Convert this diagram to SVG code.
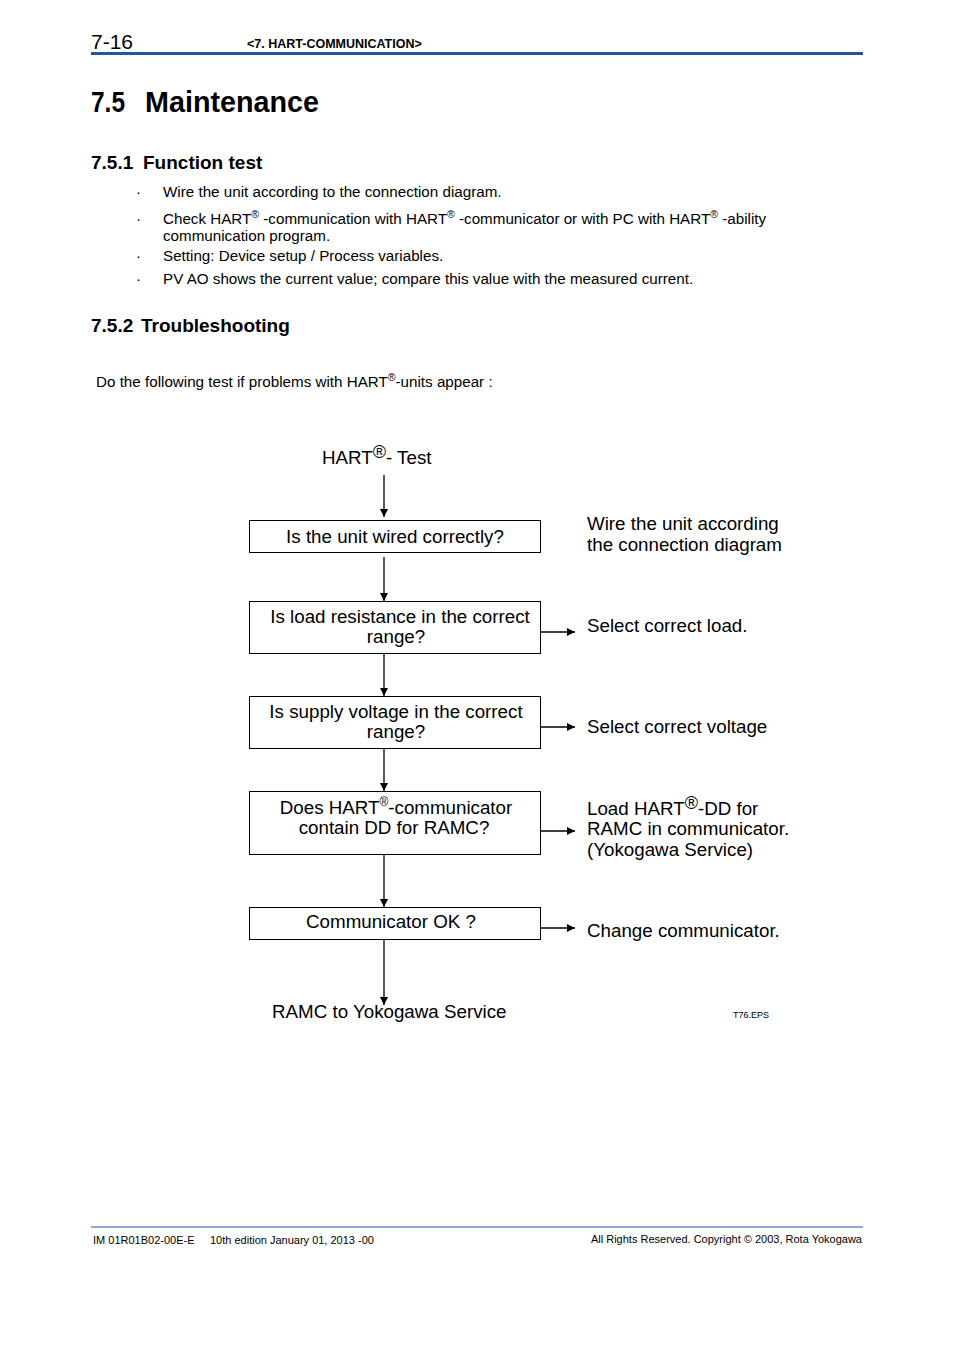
<svg xmlns="http://www.w3.org/2000/svg" width="954" height="1350" viewBox="0 0 954 1350">
<style>
text{font-family:"Liberation Sans",Arial,sans-serif;fill:#000}
.body{font-size:15.2px}
.dg{font-size:18.75px}
.box{fill:#fff;stroke:#000;stroke-width:1}
.ln{stroke:#000;stroke-width:1.3;fill:none}
.b{font-weight:bold}
</style>
<defs>
<marker id="ah" viewBox="0 0 10 10" refX="10" refY="5" markerWidth="8" markerHeight="8" markerUnits="userSpaceOnUse" orient="auto">
<path d="M0,0 L10,5 L0,10 Z" fill="#000"/>
</marker>
</defs>
<rect width="954" height="1350" fill="#fff"/>
<!-- header -->
<text x="91" y="49" font-size="21">7-16</text>
<text x="247" y="48" font-size="12.5" class="b">&lt;7. HART-COMMUNICATION&gt;</text>
<rect x="91" y="52" width="772" height="3" fill="#2456a0"/>
<text x="91" y="112" font-size="30" class="b" textLength="34" lengthAdjust="spacingAndGlyphs">7.5</text>
<text x="145" y="112" font-size="30" class="b" textLength="174" lengthAdjust="spacingAndGlyphs">Maintenance</text>
<text x="91" y="169" font-size="19" class="b">7.5.1</text>
<text x="143" y="169" font-size="19" class="b">Function test</text>
<g class="body">
<text x="136" y="197">·</text><text x="163" y="197">Wire the unit according to the connection diagram.</text>
<text x="136" y="224">·</text><text x="163" y="224">Check HART<tspan font-size="10.5" dy="-6">®</tspan><tspan dy="6"> -communication with HART</tspan><tspan font-size="10.5" dy="-6">®</tspan><tspan dy="6"> -communicator or with PC with HART</tspan><tspan font-size="10.5" dy="-6">®</tspan><tspan dy="6"> -ability</tspan></text>
<text x="163" y="241">communication program.</text>
<text x="136" y="261">·</text><text x="163" y="261">Setting: Device setup / Process variables.</text>
<text x="136" y="284">·</text><text x="163" y="284">PV AO shows the current value; compare this value with the measured current.</text>
</g>
<text x="91" y="332" font-size="19" class="b">7.5.2</text>
<text x="141" y="332" font-size="19" class="b">Troubleshooting</text>
<text x="96" y="387" class="body">Do the following test if problems with HART<tspan font-size="10.5" dy="-6">®</tspan><tspan dy="6">-units appear :</tspan></text>

<!-- diagram -->
<g id="start"><text x="322" y="464" class="dg">HART<tspan font-size="18" dy="-6">®</tspan><tspan dy="6">- Test</tspan></text></g>
<g id="box1"><rect class="box" x="249.5" y="520.5" width="291" height="32"/><text x="395" y="543" class="dg" text-anchor="middle">Is the unit wired correctly?</text></g>
<g id="box2"><rect class="box" x="249.5" y="601.5" width="291" height="52"/><text x="400" y="623" class="dg" text-anchor="middle">Is load resistance in the correct</text><text x="396" y="643" class="dg" text-anchor="middle">range?</text></g>
<g id="box3"><rect class="box" x="249.5" y="696.5" width="291" height="52"/><text x="396" y="718" class="dg" text-anchor="middle">Is supply voltage in the correct</text><text x="396" y="738" class="dg" text-anchor="middle">range?</text></g>
<g id="box4"><rect class="box" x="249.5" y="791.5" width="291" height="63"/><text x="396" y="814" class="dg" text-anchor="middle">Does HART<tspan font-size="12" dy="-8">®</tspan><tspan dy="8">-communicator</tspan></text><text x="394" y="834" class="dg" text-anchor="middle">contain DD for RAMC?</text></g>
<g id="box5"><rect class="box" x="249.5" y="907.5" width="291" height="32"/><text x="391" y="928" class="dg" text-anchor="middle">Communicator OK ?</text></g>
<g id="end"><text x="272" y="1018" class="dg">RAMC to Yokogawa Service</text></g>
<g id="r1"><text x="587" y="530" class="dg">Wire the unit according</text><text x="587" y="551" class="dg">the connection diagram</text></g>
<g id="r2"><text x="587" y="632" class="dg">Select correct load.</text></g>
<g id="r3"><text x="587" y="733" class="dg">Select correct voltage</text></g>
<g id="r4"><text x="587" y="815" class="dg">Load HART<tspan font-size="18" dy="-6">®</tspan><tspan dy="6">-DD for</tspan></text><text x="587" y="835" class="dg">RAMC in communicator.</text><text x="587" y="856" class="dg">(Yokogawa Service)</text></g>
<g id="r5"><text x="587" y="937" class="dg">Change communicator.</text></g>
<text x="733" y="1018" font-size="9">T76.EPS</text>

<g id="connectors" class="ln">
<line x1="384" y1="475" x2="384" y2="517" marker-end="url(#ah)"/>
<line x1="384" y1="557" x2="384" y2="601" marker-end="url(#ah)"/>
<line x1="384" y1="654" x2="384" y2="696" marker-end="url(#ah)"/>
<line x1="384" y1="749" x2="384" y2="791" marker-end="url(#ah)"/>
<line x1="384" y1="855" x2="384" y2="907" marker-end="url(#ah)"/>
<line x1="384" y1="940" x2="384" y2="1005" marker-end="url(#ah)"/>
<line x1="541" y1="632" x2="575" y2="632" marker-end="url(#ah)"/>
<line x1="541" y1="727" x2="575" y2="727" marker-end="url(#ah)"/>
<line x1="541" y1="831" x2="575" y2="831" marker-end="url(#ah)"/>
<line x1="541" y1="928" x2="575" y2="928" marker-end="url(#ah)"/>
</g>

<!-- footer -->
<rect x="91" y="1226.5" width="772" height="1" fill="#2456a0"/>
<text x="93" y="1244" font-size="11">IM 01R01B02-00E-E<tspan x="210">10th edition January 01, 2013 -00</tspan></text>
<text x="862" y="1243" font-size="11" text-anchor="end">All Rights Reserved. Copyright © 2003, Rota Yokogawa</text>
</svg>
